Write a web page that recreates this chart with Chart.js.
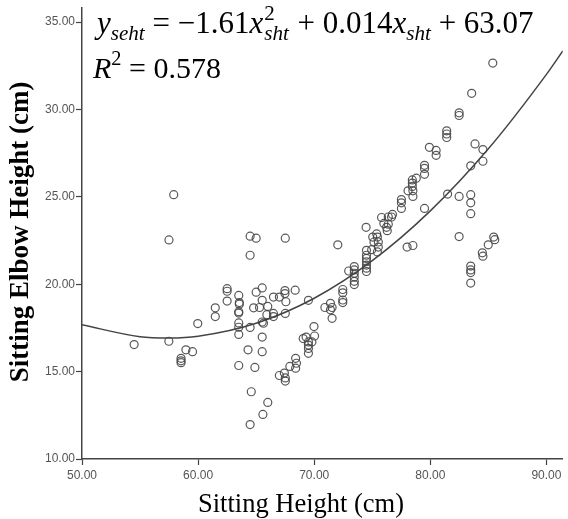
<!DOCTYPE html>
<html>
<head>
    <meta charset="utf-8">
    <title>Sitting Elbow Height vs Sitting Height</title>
    <script src="https://cdn.jsdelivr.net/npm/chart.js"></script>
    <style>
      * { margin: 0; padding: 0; }
      body { background: #fff; }
      canvas { display: block; }
    </style>
</head>
<body>
    <canvas id="chart" width="568" height="519"></canvas>
<script>
    const sittingHeight = [
        57.49, 57.9, 64.48, 65.0, 67.51, 64.48, 62.5, 62.5, 62.5, 63.5,
        63.55, 63.55, 65.0, 65.52, 67.48, 67.48, 68.36, 66.49, 67.0, 65.52,
        67.56, 64.78, 65.29, 66.0, 65.92, 66.49, 67.51, 61.48, 61.48, 63.5,
        63.5, 59.97, 63.5, 63.5, 63.5, 64.48, 65.52, 65.63, 66.49, 65.52,
        54.49, 57.48, 58.95, 59.52, 58.53, 58.53, 58.53, 63.5, 64.89, 64.3,
        65.52, 64.58, 66.0, 65.58, 64.48,
        69.5, 70.92, 69.98, 69.05, 69.3, 69.5, 69.5, 69.5, 69.5, 69.8,
        68.4, 68.47, 68.4, 67.9, 67.0, 67.43, 67.51, 67.51, 70.03, 71.54,
        71.4, 71.54, 71.4, 72.46, 72.46, 72.46, 72.46, 72.03, 72.97, 73.45,
        73.45, 73.45, 73.45, 73.45, 73.45, 74.5, 74.5, 74.5, 74.5, 74.5,
        74.5, 74.5, 74.47, 75.04, 75.15, 75.38, 75.44, 75.52, 75.52, 75.44,
        74.95, 75.8, 76.0, 76.38, 76.38, 76.66, 76.74, 76.23, 76.29,
        83.56, 82.48, 82.48, 81.41, 81.41, 81.41, 79.92, 80.5, 80.5, 79.5,
        79.5, 79.5, 78.79, 78.45, 78.45, 78.45, 78.5, 78.5, 78.08, 77.51,
        77.51, 77.51, 79.5, 81.49, 82.48, 83.48, 83.48, 83.48, 83.85, 83.48,
        84.53, 84.53, 82.48, 78.0, 78.5, 85.38, 84.99, 85.46, 85.55, 84.48,
        84.53, 83.48, 83.48, 83.48, 83.48
    ];
    const elbowHeight = [
        22.54, 25.13, 22.75, 22.64, 22.64, 21.66, 19.75, 19.6, 19.04, 19.36,
        18.95, 18.86, 19.55, 19.79, 19.64, 19.47, 19.66, 19.27, 19.27, 19.08,
        19.0, 18.65, 18.67, 18.73, 18.26, 18.33, 18.33, 18.65, 18.15, 18.35,
        18.43, 17.75, 17.79, 17.54, 17.13, 17.53, 17.84, 17.77, 18.15, 16.98,
        16.55, 16.74, 16.25, 16.14, 15.76, 15.62, 15.51, 15.35, 15.24, 16.25,
        16.14, 13.85, 13.24, 12.55, 11.97,
        19.08, 18.67, 17.58, 16.89, 16.98, 16.7, 16.52, 16.33, 16.05, 16.7,
        15.76, 15.48, 15.2, 15.3, 14.78, 14.92, 14.64, 14.46, 17.04, 18.05,
        18.91, 18.67, 18.54, 19.7, 19.51, 19.1, 18.95, 22.26, 20.76, 21.01,
        20.82, 20.63, 20.41, 20.17, 19.98, 21.94, 21.66, 21.48, 21.29, 21.1,
        20.92, 20.73, 23.26, 22.7, 22.42, 22.88, 22.7, 22.42, 22.13, 21.85,
        21.98, 23.82, 23.48, 23.85, 23.44, 23.85, 24.0, 23.26, 23.07,
        30.93, 29.81, 29.66, 28.78, 28.6, 28.4, 27.84, 27.66, 27.38, 26.81,
        26.63, 26.29, 26.07, 25.97, 25.79, 25.6, 25.35, 25.03, 25.35, 24.85,
        24.66, 24.34, 24.34, 25.16, 25.03, 25.13, 24.66, 24.04, 28.03, 26.78,
        27.71, 27.04, 22.73, 22.13, 22.22, 32.66, 22.26, 22.7, 22.55, 21.8,
        21.61, 21.04, 20.82, 20.67, 20.07
    ];

    // quadratic fit line
    const fitX = [50, 55, 57.5, 60, 65, 70, 75, 80, 85, 90, 91.41];
    const fitY = [17.68, 17.0, 16.93, 17.03, 17.77, 19.2, 21.35, 24.2, 27.75, 32.01, 33.35];

    const xTicks = [50, 60, 70, 80, 90];
    const yTicks = [10, 15, 20, 25, 30, 35];

    const xTitle = 'Sitting Height (cm)';
    const yTitle = 'Sitting Elbow Height (cm)';

    const points = sittingHeight.map((x, i) => ({x: x, y: elbowHeight[i]}));
    const fitLine = fitX.map((x, i) => ({x: x, y: fitY[i]}));

    // draws a run of text pieces, some italic, sub- or superscripted
    function drawRich(ctx, x, y, parts, size) {
        const fam = '"Liberation Serif", serif';
        parts.forEach(p => {
            if (p.stack) {
                const s = size * 0.68;
                ctx.font = s + 'px ' + fam;
                const w1 = ctx.measureText(p.stack[0]).width;
                ctx.fillText(p.stack[0], x + 1, y - size * 0.42);
                ctx.font = 'italic ' + s + 'px ' + fam;
                const w2 = ctx.measureText(p.stack[1]).width;
                ctx.fillText(p.stack[1], x + 1, y + size * 0.22);
                x += Math.max(w1, w2) + 2;
                return;
            }
            let s = size, dy = 0;
            if (p.sub) { s = size * 0.68; dy = size * 0.22; }
            if (p.sup) { s = size * 0.68; dy = -size * 0.42; }
            ctx.font = (p.it ? 'italic ' : '') + s + 'px ' + fam;
            ctx.fillText(p.t, x, y + dy);
            x += ctx.measureText(p.t).width;
        });
    }

    const annotations = {
        id: 'annotations',
        afterDraw(chart) {
            const ctx = chart.ctx;
            ctx.save();
            ctx.fillStyle = '#000';
            ctx.textAlign = 'left';
            ctx.textBaseline = 'alphabetic';
            drawRich(ctx, 97, 33, [
                {t: 'y', it: true}, {t: 'seht', it: true, sub: true},
                {t: ' = \u22121.61'}, {t: 'x', it: true}, {stack: ['2', 'sht']},
                {t: ' + 0.014'}, {t: 'x', it: true}, {t: 'sht', it: true, sub: true},
                {t: ' + 63.07'}
            ], 31);
            drawRich(ctx, 93, 78, [
                {t: 'R', it: true}, {t: '2', sup: true}, {t: ' = 0.578'}
            ], 30);

            ctx.textAlign = 'center';
            ctx.font = '26.5px "Liberation Serif", serif';
            ctx.fillText(xTitle, 301, 512);

            ctx.translate(21, 232);
            ctx.rotate(-Math.PI / 2);
            ctx.textBaseline = 'middle';
            ctx.font = 'bold 27px "Liberation Serif", serif';
            ctx.fillText(yTitle, 0, 0);
            ctx.restore();
        }
    };

    const config = {
        type: 'scatter',
        data: {
            datasets: [{
                label: 'observed',
                data: points,
                pointRadius: 4,
                pointBorderWidth: 1.2,
                borderColor: 'rgba(70, 70, 70, 0.9)',
                backgroundColor: 'rgba(0, 0, 0, 0)',
                order: 2
            }, {
                label: 'quadratic fit',
                type: 'line',
                data: fitLine,
                pointRadius: 0,
                borderColor: '#444',
                borderWidth: 1.5,
                cubicInterpolationMode: 'monotone',
                fill: false,
                order: 1
            }]
        },
        options: {
            responsive: false,
            animation: false,
            events: [],
            layout: { padding: 0 },
            plugins: {
                legend: { display: false },
                tooltip: { enabled: false }
            },
            scales: {
                x: {
                    type: 'linear',
                    min: 50,
                    max: 91.41,
                    afterBuildTicks: s => { s.ticks = xTicks.map(v => ({value: v})); },
                    afterFit: s => { s.height = 60; },
                    grid: { drawOnChartArea: false, tickLength: 6, tickColor: '#444', tickWidth: 1.2 },
                    border: { color: '#444', width: 1.5 },
                    ticks: {
                        padding: 3,
                        color: '#555',
                        font: { family: '"Liberation Sans", Arial', size: 12 },
                        maxRotation: 0,
                        callback: v => v.toFixed(2)
                    }
                },
                y: {
                    type: 'linear',
                    min: 10,
                    max: 35.8,
                    afterBuildTicks: s => { s.ticks = yTicks.map(v => ({value: v})); },
                    afterFit: s => { s.width = 82; },
                    grid: { drawOnChartArea: false, tickLength: 6, tickColor: '#444', tickWidth: 1.2 },
                    border: { color: '#444', width: 1.5 },
                    ticks: {
                        padding: 1,
                        color: '#555',
                        font: { family: '"Liberation Sans", Arial', size: 12 },
                        callback: v => v.toFixed(2)
                    }
                }
            }
        },
        plugins: [annotations]
    };
</script>
<script>
    const chart = new Chart(document.getElementById('chart'), config);
</script>
</body>
</html>
